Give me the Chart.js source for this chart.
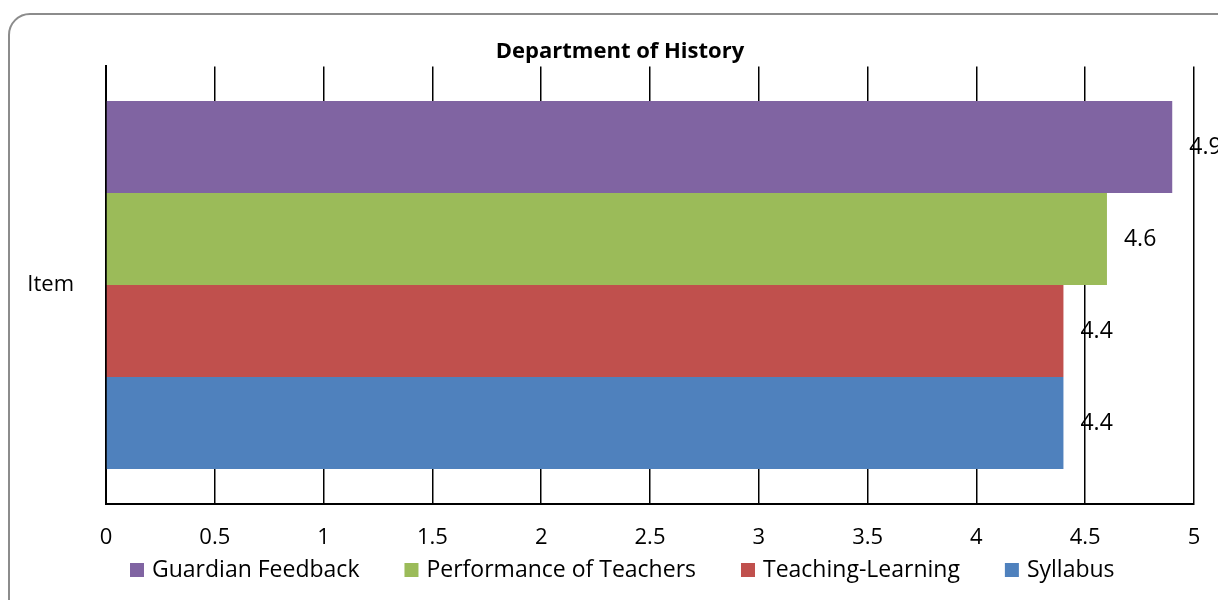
<!DOCTYPE html>
<html>
<head>
<meta charset="utf-8">
<title>Department of History</title>
<script src="https://cdn.jsdelivr.net/npm/chart.js@4/dist/chart.umd.min.js"></script>
<style>
  html, body { margin: 0; padding: 0; background: #fff; overflow: hidden; }
  #frame {
    position: absolute;
    left: 8px;
    top: 13px;
    width: 1240px;
    height: 640px;
    border: 2px solid #8c8c8c;
    border-radius: 22px;
    box-sizing: border-box;
  }
  #wrap { position: absolute; left: 0; top: 0; width: 1218px; height: 600px; }
</style>
</head>
<body>
<div id="frame"></div>
<div id="wrap"><canvas id="historyChart"></canvas></div>
<script>
// Chart data
const categories = ['Item'];
const seriesNames = ['Guardian Feedback', 'Performance of Teachers', 'Teaching-Learning', 'Syllabus'];
const seriesColors = ['#8064A2', '#9BBB59', '#C0504D', '#4F81BD'];
const guardianFeedback = [4.9];
const performanceOfTeachers = [4.6];
const teachingLearning = [4.4];
const syllabus = [4.4];
const seriesValues = [guardianFeedback, performanceOfTeachers, teachingLearning, syllabus];
const xTickLabels = ['0', '0.5', '1', '1.5', '2', '2.5', '3', '3.5', '4', '4.5', '5'];

const FONT = '"Open Sans", "Noto Sans", sans-serif';

/**
 * Draw the value of each bar just right of its end
 */
const valueLabels = {
  id: 'valueLabels',
  afterDatasetsDraw(chart) {
    const ctx = chart.ctx;
    ctx.save();
    ctx.font = '23px ' + FONT;
    ctx.fillStyle = '#000';
    ctx.textAlign = 'left';
    ctx.textBaseline = 'middle';
    chart.data.datasets.forEach((ds, i) => {
      chart.getDatasetMeta(i).data.forEach((bar, j) => {
        ctx.fillText(String(ds.data[j]), bar.x + 17, bar.y);
      });
    });
    ctx.restore();
  }
};

/**
 * Legend row under the axis (Excel style: small squares, wide gaps)
 */
const bottomLegend = {
  id: 'bottomLegend',
  afterDraw(chart) {
    const ctx = chart.ctx;
    const box = 14;
    const textGap = 8;
    const itemGap = 45;
    const midY = 570;
    let x = 130;
    ctx.save();
    ctx.font = '23px ' + FONT;
    ctx.textAlign = 'left';
    ctx.textBaseline = 'middle';
    chart.data.datasets.forEach((ds) => {
      ctx.fillStyle = ds.backgroundColor;
      ctx.fillRect(x, midY - box / 2, box, box);
      x += box + textGap;
      ctx.fillStyle = '#000';
      ctx.fillText(ds.label, x, midY);
      x += ctx.measureText(ds.label).width + itemGap;
    });
    ctx.restore();
  }
};

/**
 * The original title sits a little right of the canvas centre
 */
const titleNudge = {
  id: 'titleNudge',
  afterLayout(chart) {
    const t = chart.titleBlock;
    if (t) {
      t.left += 23;
      t.right += 23;
    }
  }
};

Chart.defaults.color = '#000';
Chart.defaults.font.family = FONT;

const ctx = document.getElementById('historyChart').getContext('2d');
new Chart(ctx, {
  type: 'bar',
  data: {
    labels: categories,
    datasets: seriesNames.map((name, i) => ({
      label: name,
      data: seriesValues[i],
      backgroundColor: seriesColors[i],
      borderWidth: 0,
      barPercentage: 1,
      categoryPercentage: 0.842
    }))
  },
  options: {
    indexAxis: 'y',
    responsive: true,
    maintainAspectRatio: false,
    animation: false,
    layout: {
      padding: { left: 0, right: 24, top: 0, bottom: 28 }
    },
    plugins: {
      title: {
        display: true,
        text: 'Department of History',
        color: '#000',
        font: { size: 22, weight: 'bold' },
        padding: { top: 39, bottom: 1 }
      },
      legend: { display: false },
      tooltip: { enabled: false }
    },
    scales: {
      x: {
        min: 0,
        max: 5,
        ticks: {
          stepSize: 0.5,
          padding: 21,
          maxRotation: 0,
          font: { size: 22 },
          color: '#000',
          callback: (value, index) => xTickLabels[index]
        },
        grid: {
          display: true,
          color: '#000',
          lineWidth: 1.5,
          drawTicks: false
        },
        border: { display: true, color: '#000', width: 2 },
        afterFit(scale) {
          // the tick padding is only meant to push labels down
          scale.paddingLeft = 0;
          scale.paddingRight = 0;
        }
      },
      y: {
        ticks: {
          padding: 32,
          font: { size: 22 },
          color: '#000'
        },
        grid: { display: false, drawTicks: false },
        border: { display: true, color: '#000', width: 2 },
        afterFit(scale) {
          scale.width = 106;
        }
      }
    }
  },
  plugins: [valueLabels, bottomLegend, titleNudge]
});
</script>
</body>
</html>
